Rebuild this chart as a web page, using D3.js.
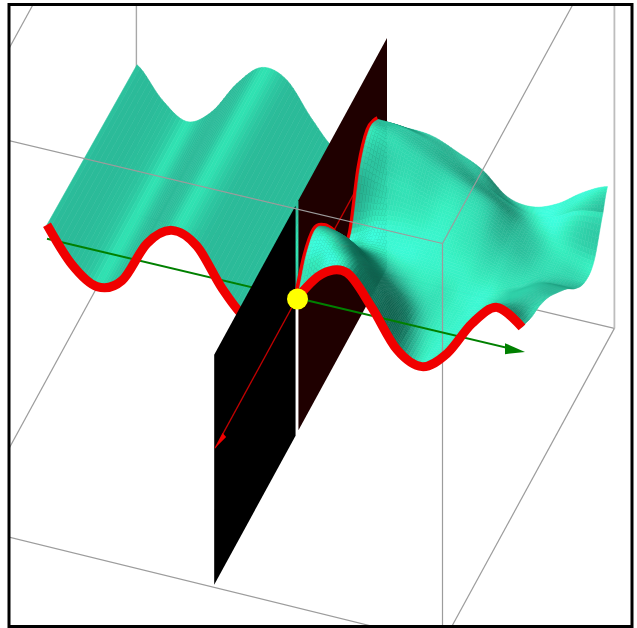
<!DOCTYPE html>
<html>
<head>
    <meta charset="utf-8">
    <title>surface with cutting planes</title>
    <style type="text/css">
        html, body { margin: 0; padding: 0; background: #fff; }
        svg { display: block; }
    </style>
</head>
<body>
<div id="chart"></div>
<script src="https://cdn.jsdelivr.net/npm/d3@7"></script>
<script type="text/javascript">
    // box limits
    var boxX = [-247, 231];
    var boxY = [-0.95, 0.96];
    var boxZ = [-134, 266];

    // cutting plane x = 0 (split in two by the slit)
    var planeFrontY = [-0.92, -0.016];
    var planeBackY = [0.016, 1];
    var planeZ = [-135, 95];

    // left half: heights read along the x direction
    var leftX = [-250, -225, -200, -175, -150, -125, -100, -75, -50, -25, 0];
    var leftY = [0, 1];
    var leftZ = [
        [14, -20, -36, -24, 19, 38, 28, -8, -33, -30, 0],
        [9, -20, -36, -20, 14, 36, 29, -4, -30, -28, 0]
    ];

    // right half: heights read row by row
    var rightX = [0, 25, 50, 75, 100, 125, 150, 175, 200, 225];
    var rightY = [0, 0.1, 0.2, 0.3, 0.4, 0.5, 0.6, 0.7, 0.8, 0.9, 0.95];
    var rightZ = [
        [0, 30, 37, 8, -28, -39, -20, 16, 38, 24],
        [26, 38, 32, 5, -30, -39, -27, 6, 26, 17],
        [35, 33, 16, -8, -32, -38, -31, -4, 14, 13],
        [22, 15, -6, -22, -33, -37, -33, -12, 3, 5],
        [0, -10, -22, -28, -31, -35, -33, -21, -8, -7],
        [-28, -26, -27, -26, -27, -29, -32, -31, -21, -20],
        [-35, -20, -16, -16, -17, -22, -30, -36, -36, -36],
        [15, 8, 4, -2, -6, -13, -26, -37, -42, -46],
        [36, 29, 20, 10, 1, -9, -24, -34, -38, -42],
        [30, 28, 20, 8, -6, -20, -29, -26, -14, -10],
        [17, 19, 17, 7, -5, -26, -30, -21, -4, 8]
    ];

    var width = 637, height = 628;
    var originX = 297, originY = 298;

    var xS = d3.scaleLinear().domain([-250, 250]).range([-250, 250]);
    var yS = d3.scaleLinear().domain([0, 1]).range([0, 90]);
    var zS = d3.scaleLinear().domain([-134, 266]).range([134, -266]);

    function project(x, y, z) {
        return [
            originX + xS(x) + yS(y),
            originY + 0.237 * xS(x) - 1.833 * yS(y) + zS(z)
        ];
    }

    function catmull(p0, p1, p2, p3, t) {
        return 0.5 * (2 * p1 + (p2 - p0) * t + (2 * p0 - 5 * p1 + 4 * p2 - p3) * t * t +
            (3 * p1 - p0 - 3 * p2 + p3) * t * t * t);
    }

    function spline(arr, u) {
        var n = arr.length - 1;
        var i = Math.min(Math.floor(u), n - 1);
        var t = u - i;
        return catmull(arr[Math.max(i - 1, 0)], arr[i], arr[i + 1], arr[Math.min(i + 2, n)], t);
    }

    function rightHeight(u, v) {
        var col = rightZ.map(function (row) { return spline(row, u); });
        return spline(col, v);
    }

    function leftHeight(u, f) {
        return (1 - f) * spline(leftZ[0], u) + f * spline(leftZ[1], u);
    }

    var svg = d3.select('#chart').append('svg')
        .attr('width', width)
        .attr('height', height);

    svg.append('clipPath').attr('id', 'frame-clip')
        .append('rect')
        .attr('x', 9).attr('y', 4.5).attr('width', 623).attr('height', 622);

    var plot = svg.append('g').attr('clip-path', 'url(#frame-clip)');
    var toPath = d3.line();

    function edge(g, a, b, color, w) {
        g.append('path')
            .attr('d', toPath([project.apply(null, a), project.apply(null, b)]))
            .attr('fill', 'none')
            .attr('stroke', color || '#9c9c9c')
            .attr('stroke-width', w || 1.2);
    }

    var x0 = boxX[0], x1 = boxX[1], y0 = boxY[0], y1 = boxY[1], zb = boxZ[0], zt = boxZ[1];

    // box edges behind the surface
    edge(plot, [x1, y1, zb], [x0, y1, zb]);
    edge(plot, [x0, y0, zb], [x0, y1, zb]);
    edge(plot, [x0, y1, zb], [x0, y1, zt], '#a8a8a8', 1.4);
    edge(plot, [x1, y1, zb], [x1, y1, zt], '#bdbdbd', 1.8);
    edge(plot, [x0, y0, zt], [x0, y1, zt]);
    edge(plot, [x0, y1, zt], [x1, y1, zt]);
    edge(plot, [x0, y0, zb + 4], [x1, y0, zb]);
    edge(plot, [x1, y0, zb], [x1, y1, zb]);

    // left half of the surface
    var leftColor = d3.scaleLinear().domain([0, 1]).range(['#2bbb99', '#30e2b2']);
    var leftG = plot.append('g');
    var nx = 8;
    for (var i = 0; i < (leftX.length - 1) * nx; i++) {
        var ua = i / nx, ub = (i + 1) / nx;
        var xa = leftX[0] + 25 * ua, xb = leftX[0] + 25 * ub;
        var slope = (leftHeight(ub, 0.5) - leftHeight(ua, 0.5)) / (xb - xa);
        var flat = Math.exp(-Math.pow(slope / 0.6, 2));
        var c = leftColor(flat);
        var quad = [
            project(xa, leftY[0], leftHeight(ua, 0)),
            project(xb, leftY[0], leftHeight(ub, 0)),
            project(xb, leftY[1], leftHeight(ub, 1)),
            project(xa, leftY[1], leftHeight(ua, 1))
        ];
        leftG.append('polygon')
            .attr('points', quad.join(' '))
            .attr('fill', c)
            .attr('stroke', c)
            .attr('stroke-width', 0.6);
    }

    var redCurve = d3.line().curve(d3.curveCatmullRom.alpha(0));

    // x axis, left part
    plot.append('path')
        .attr('d', toPath([project(-250, 0, 0), project(0, 0, 0)]))
        .attr('stroke', 'green').attr('stroke-width', 2).attr('fill', 'none');

    // red profile along y = 0, left part
    plot.append('path')
        .attr('d', redCurve(leftX.map(function (x, i) { return project(x, 0, leftZ[0][i]); })))
        .attr('fill', 'none').attr('stroke', '#f00000').attr('stroke-width', 9);

    // cutting planes
    function planeQuad(ys) {
        return [
            project(0, ys[0], planeZ[0]),
            project(0, ys[1], planeZ[0]),
            project(0, ys[1], planeZ[1]),
            project(0, ys[0], planeZ[1])
        ];
    }
    plot.append('polygon').attr('points', planeQuad(planeFrontY).join(' ')).attr('fill', '#000');
    plot.append('polygon').attr('points', planeQuad(planeBackY).join(' ')).attr('fill', '#1f0000');

    // y axis
    var axisTip = project(0, -0.91, 0);
    plot.append('path')
        .attr('d', toPath([project(0, 0.66, 0), axisTip]))
        .attr('stroke', '#c00000').attr('stroke-width', 1.3).attr('fill', 'none');
    plot.append('polygon')
        .attr('points', [axisTip, [axisTip[0] + 7.5, axisTip[1] - 15], [axisTip[0] + 11, axisTip[1] - 11]].join(' '))
        .attr('fill', '#f00000');

    // red profile along x = 0
    plot.append('path')
        .attr('d', redCurve(rightY.slice(0, 10).map(function (y, i) { return project(0, y, rightZ[i][0]); })))
        .attr('fill', 'none').attr('stroke', '#f00000').attr('stroke-width', 7);

    // right half, painted from the back row to the front row
    var rightColor = d3.scaleLinear()
        .domain([0, 0.4, 0.7, 0.9, 1])
        .range(['#0d4f40', '#147a62', '#2cbf9c', '#36eebf', '#3effe0']);
    var light = [-0.3, -0.3, 0.9];
    var rightG = plot.append('g');
    var sub = 8;
    var rowStep = d3.scaleLinear().domain(d3.range(rightY.length)).range(rightY);
    var nu = (rightX.length - 1) * sub, nv = (rightY.length - 1) * sub;
    for (var j = nv - 1; j >= 0; j--) {
        for (var k = 0; k < nu; k++) {
            var u0 = k / sub, u1 = (k + 1) / sub, v0 = j / sub, v1 = (j + 1) / sub;
            var za = rightHeight(u0, v0), zb2 = rightHeight(u1, v0), zc = rightHeight(u1, v1), zd = rightHeight(u0, v1);
            var xA = 25 * u0, xB = 25 * u1, yA = rowStep(v0), yB = rowStep(v1);
            var zx = ((zb2 - za) + (zc - zd)) / 2 / (xB - xA);
            var zy = ((zd - za) + (zc - zb2)) / 2 / ((yB - yA) * 249);
            var len = Math.sqrt(zx * zx + zy * zy + 1);
            var shade = (-zx * light[0] - zy * light[1] + light[2]) / len;
            shade = Math.max(0, Math.min(1, shade));
            var col = rightColor(shade);
            rightG.append('polygon')
                .attr('points', [project(xA, yA, za), project(xB, yA, zb2), project(xB, yB, zc), project(xA, yB, zd)].join(' '))
                .attr('fill', col)
                .attr('stroke', col)
                .attr('stroke-width', 0.5);
        }
    }

    // box edges in front of the surface
    edge(plot, [x0, y0, zt], [x1, y0, zt]);
    edge(plot, [x1, y0, zt], [x1, y1, zt]);
    edge(plot, [x1, y0, zt], [x1, y0, zb]);

    // x axis, right part
    var xEnd = project(220, 0, 0), xTip = project(228, 0, 0);
    plot.append('path')
        .attr('d', toPath([project(0, 0, 0), xEnd]))
        .attr('stroke', 'green').attr('stroke-width', 2).attr('fill', 'none');
    plot.append('polygon')
        .attr('points', [[xEnd[0] - 12, xEnd[1] - 7], xTip, [xEnd[0] - 12, xEnd[1] + 4]].join(' '))
        .attr('fill', 'green');

    // red profile along y = 0, right part
    plot.append('path')
        .attr('d', redCurve(rightX.map(function (x, i) { return project(x, 0, rightZ[0][i]); })))
        .attr('fill', 'none').attr('stroke', '#f00000').attr('stroke-width', 9);

    // origin
    var o = project(0, 0, 0);
    plot.append('circle').attr('cx', o[0] + 0.5).attr('cy', o[1] + 1).attr('r', 10.5).attr('fill', '#ffff00');

    svg.append('rect')
        .attr('x', 9).attr('y', 4.5).attr('width', 623).attr('height', 622)
        .attr('fill', 'none').attr('stroke', '#000').attr('stroke-width', 3);
</script>
</body>
</html>
